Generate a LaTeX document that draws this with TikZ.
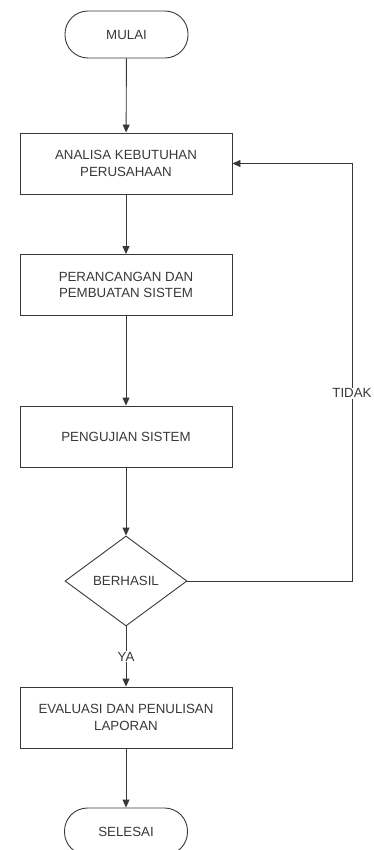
\documentclass[tikz,border=0pt]{standalone}
\usepackage{fontspec}
\setmainfont{Liberation Sans}
\usetikzlibrary{arrows.meta}
\usetikzlibrary{shapes.geometric}

\begin{document}
\begin{tikzpicture}[x=1pt, y=-1pt, line width=0.9pt, color=black!78,
    every node/.style={font=\fontsize{13.3}{16.5}\selectfont},
    terminal/.style={draw, rectangle, rounded corners=23pt, minimum width=123pt, minimum height=47pt},
    proses/.style={draw, rectangle, minimum width=212pt, minimum height=61pt, align=center},
    keputusan/.style={draw, diamond, minimum width=122pt, minimum height=90pt, inner sep=0pt},
    panah/.style={-{Triangle[length=8pt,width=7pt]}}]

    \clip (0,0) rectangle (374,850);

                \node[terminal] (M) at (126.5,34.5) {MULAI};
                \node[proses] (A) at (126,163.5) {ANALISA KEBUTUHAN\\PERUSAHAAN};
                \node[proses] (P) at (126,285) {PERANCANGAN DAN\\PEMBUATAN SISTEM};
                \node[proses] (U) at (126,436.5) {PENGUJIAN SISTEM};
                \node[keputusan] (B) at (126,581) {BERHASIL};
                \node[proses] (E) at (126,717.5) {EVALUASI DAN PENULISAN\\LAPORAN};
                \node[terminal] (S) at (126,831.5) {SELESAI};
                \coordinate (K) at (352,581);

                \draw[panah] (M) -- (A);
                \draw[panah] (A) -- (P);
                \draw[panah] (P) -- (U);
                \draw[panah] (U) -- (B);
                \draw[panah] (B) -- (E) node[midway, fill=white, inner sep=1pt] {YA};
                \draw[panah] (E) -- (S);
                \draw[panah] (B) -- (K) |- (A) node[pos=0.225, fill=white, inner sep=1pt] {TIDAK};

            \end{tikzpicture}
\end{document}
